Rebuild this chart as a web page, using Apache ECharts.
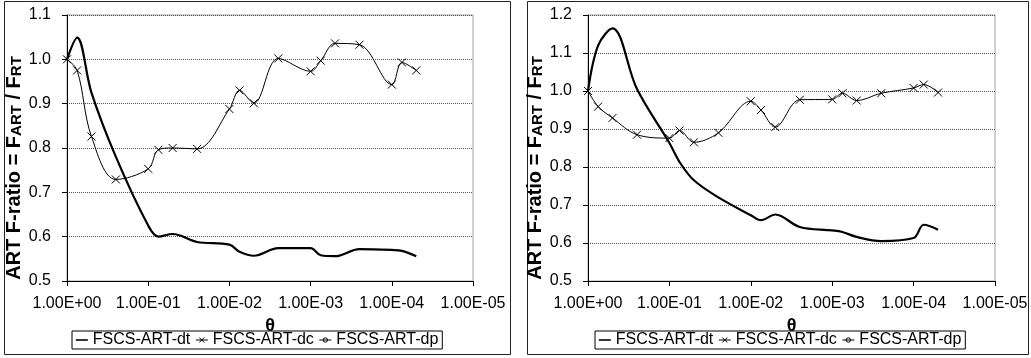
<!DOCTYPE html>
<html>
<head>
<meta charset="utf-8">
<script src="https://cdn.jsdelivr.net/npm/echarts@6/dist/echarts.min.js"></script>
<style>
  html, body { margin: 0; padding: 0; background: #fff; }
  #chart { width: 1031px; height: 358px; }
</style>
</head>
<body>
<div id="chart"></div>
<script>
// theta values shared by both panels (x axis, log scale, decreasing to the right)
const thetas = [1, 0.75, 0.5, 0.25, 0.1, 0.075, 0.05, 0.025, 0.01, 0.0075, 0.005,
  0.0025, 0.001, 0.00075, 0.0005, 0.00025, 0.0001, 0.000075, 0.00005];

const seriesNames = ["FSCS-ART-dt", "FSCS-ART-dc", "FSCS-ART-dp"];

// left panel
const leftDt = [1.0, 1.049, 0.925, 0.78, 0.625, 0.600, 0.606, 0.588, 0.582, 0.566, 0.557,
  0.574, 0.574, 0.558, 0.556, 0.572, 0.570, 0.568, 0.556];
const leftDc = [1.0, 0.975, 0.826, 0.729, 0.753, 0.796, 0.800, 0.798, 0.888, 0.930, 0.901,
  1.002, 0.973, 0.997, 1.036, 1.033, 0.943, 0.993, 0.975];
const leftDp = [];
const leftYRange = [0.5, 1.1];

// right panel
const rightDt = [1.0, 1.12, 1.165, 1.005, 0.863, 0.813, 0.765, 0.72, 0.673, 0.66, 0.675,
  0.642, 0.633, 0.629, 0.616, 0.605, 0.613, 0.648, 0.635];
const rightDc = [1.0, 0.959, 0.929, 0.885, 0.876, 0.896, 0.865, 0.89, 0.973, 0.95, 0.905,
  0.977, 0.978, 0.994, 0.975, 0.994, 1.008, 1.017, 0.996];
const rightDp = [];
const rightYRange = [0.5, 1.2];

const xRange = [0.00001, 1];

const pair = (ys) => ys.map((y, i) => [thetas[i], y]);

// 1.00E-03 style labels
const sci = (v) => {
  const [m, e] = Number(v).toExponential(2).split("e");
  const n = parseInt(e, 10);
  return m + "E" + (n < 0 ? "-" : "+") + String(Math.abs(n)).padStart(2, "0");
};

const crossSymbol = "path://M0,0L10,10M10,0L0,10";
const font = "Liberation Sans";

// legend icons in a 12x8 box (the bare moves keep the box full height)
const legendIcons = [
  "path://M0,0M12,8M0,4L12,4",
  "path://M0,0M12,8M0,4L12,4M3.5,1.5L8.5,6.5M8.5,1.5L3.5,6.5",
  "path://M0,0M12,8M0,4L3.8,4M8.2,4L12,4M3.8,4A2.2,2.2 0 1 1 8.2,4A2.2,2.2 0 1 1 3.8,4ZM3.8,4L8.2,4",
];
const legendWidths = [1.6, 1, 1];

const chart = echarts.init(document.getElementById("chart"));

const panels = [
  { dt: leftDt, dc: leftDc, dp: leftDp, y: leftYRange, gridLeft: 67, gridWidth: 406, legendLeft: 72 },
  { dt: rightDt, dc: rightDc, dp: rightDp, y: rightYRange, gridLeft: 588, gridWidth: 407, legendLeft: 595 },
];

const option = {
  animation: false,
  textStyle: { fontFamily: font },
  graphic: [
    { type: "rect", shape: { x: 4.5, y: 1.5, width: 506, height: 353 },
      style: { fill: "none", stroke: "#222", lineWidth: 1 }, silent: true },
    { type: "rect", shape: { x: 527.5, y: 1.5, width: 501, height: 353 },
      style: { fill: "none", stroke: "#222", lineWidth: 1 }, silent: true },
  ],
  grid: panels.map((p) => ({
    left: p.gridLeft, top: 15, width: p.gridWidth, height: 266,
    show: true, borderColor: "#a0a0a0", borderWidth: 1, containLabel: false,
  })),
  legend: panels.map((p) => ({
    data: seriesNames.map((name, k) => ({
      name,
      icon: legendIcons[k],
      itemStyle: { color: "#fff", borderColor: "#000", borderWidth: legendWidths[k] },
    })),
    left: p.legendLeft, top: 331,
    orient: "horizontal",
    itemWidth: 12, itemHeight: 8, itemGap: 5,
    padding: [1, 4, 1, 3],
    borderColor: "#000", borderWidth: 1,
    textStyle: { fontFamily: font, fontSize: 16, color: "#000" },
  })),
  xAxis: panels.map((p, i) => ({
    type: "log", gridIndex: i, logBase: 10,
    min: xRange[0], max: xRange[1], inverse: true,
    name: "θ", nameLocation: "middle", nameGap: 30,
    nameTextStyle: { fontFamily: font, fontSize: 18, fontWeight: "bold", color: "#000" },
    axisLine: { show: true, lineStyle: { color: "#000", width: 1 } },
    axisTick: { show: true, length: 5, lineStyle: { color: "#000" } },
    minorTick: { show: false },
    splitLine: { show: false },
    axisLabel: { fontFamily: font, fontSize: 16, color: "#000", margin: 15,
      showMinLabel: true, showMaxLabel: true, formatter: sci },
  })),
  yAxis: panels.map((p, i) => ({
    type: "value", gridIndex: i,
    min: p.y[0], max: p.y[1], interval: 0.1,
    name: "ART F-ratio = F{s|ART} / F{s|RT}",
    nameLocation: "middle", nameRotate: 90, nameGap: 34,
    nameTextStyle: {
      fontFamily: font, fontSize: 20, fontWeight: "bold", color: "#000",
      padding: [0, 40, 0, 0],
      rich: { s: { fontFamily: font, fontSize: 15, fontWeight: "bold", color: "#000", padding: [5, 0, 0, 0] } },
    },
    axisLine: { show: true, lineStyle: { color: "#000", width: 1 } },
    axisTick: { show: true, length: 5, lineStyle: { color: "#000" } },
    splitLine: { show: true, lineStyle: { color: "#555", type: "dotted", width: 1 } },
    axisLabel: { fontFamily: font, fontSize: 16, color: "#000", margin: 16,
      formatter: (v) => v.toFixed(1) },
  })),
  series: panels.flatMap((p, i) => [
    {
      name: seriesNames[0], type: "line", xAxisIndex: i, yAxisIndex: i,
      data: pair(p.dt), smooth: 0.35, symbol: "none",
      lineStyle: { color: "#000", width: 2.2 }, itemStyle: { color: "#000" },
    },
    {
      name: seriesNames[1], type: "line", xAxisIndex: i, yAxisIndex: i,
      data: pair(p.dc), smooth: 0.35, symbol: crossSymbol, symbolSize: 8,
      lineStyle: { color: "#000", width: 1 },
      itemStyle: { color: "#000", borderColor: "#000", borderWidth: 1 },
    },
    {
      name: seriesNames[2], type: "line", xAxisIndex: i, yAxisIndex: i,
      data: pair(p.dp), smooth: 0.35, symbol: "emptyCircle", symbolSize: 6,
      lineStyle: { color: "#000", width: 1 },
      itemStyle: { color: "#000", borderColor: "#000", borderWidth: 1 },
    },
  ]),
};

chart.setOption(option);
</script>
</body>
</html>
